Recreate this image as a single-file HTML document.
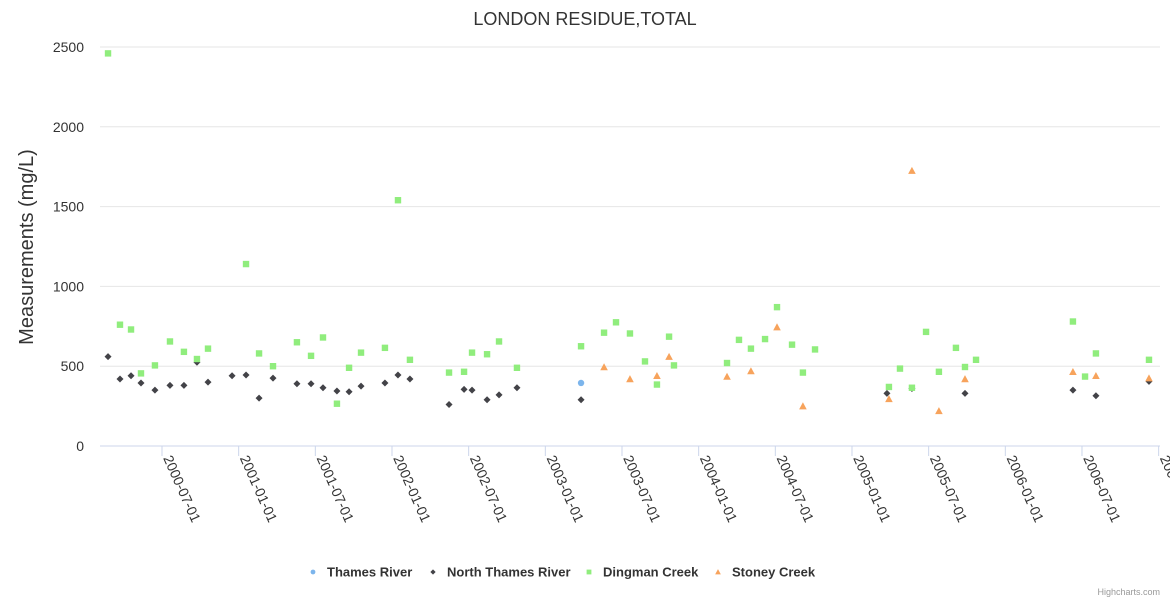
<!DOCTYPE html>
<html><head><meta charset="utf-8"><style>
html,body{margin:0;padding:0;background:#fff;}
svg{display:block;font-family:"Liberation Sans","DejaVu Sans",sans-serif;}
</style></head><body>
<svg id="chart" width="1170" height="600" viewBox="0 0 1170 600" xmlns="http://www.w3.org/2000/svg">
<text x="585" y="25" text-anchor="middle" font-size="18" fill="#333">LONDON RESIDUE,TOTAL</text>
<text transform="translate(33,247) rotate(-90)" text-anchor="middle" font-size="20" fill="#333">Measurements (mg/L)</text>
<g id="grid"></g>
<g id="marks"></g>
<g id="legend"></g>
<text x="1160" y="595" text-anchor="end" font-size="9" fill="#999">Highcharts.com</text>
</svg>
<script>
const yTicks=[0,500,1000,1500,2000,2500];
const xTickYears=[2000.5,2001,2001.5,2002,2002.5,2003,2003.5,2004,2004.5,2005,2005.5,2006,2006.5,2007];
const xTickLabels=["2000-07-01","2001-01-01","2001-07-01","2002-01-01","2002-07-01","2003-01-01","2003-07-01","2004-01-01","2004-07-01","2005-01-01","2005-07-01","2006-01-01","2006-07-01","2007-01-01"];
const seriesNames=["Thames River","North Thames River","Dingman Creek","Stoney Creek"];
const thamesX=[2003.233];
const thamesY=[395];
const northX=[2000.148,2000.226,2000.298,2000.363,2000.454,2000.552,2000.643,2000.728,2000.800,2000.957,2001.048,2001.133,2001.224,2001.380,2001.472,2001.550,2001.641,2001.720,2001.798,2001.954,2002.039,2002.117,2002.372,2002.470,2002.522,2002.620,2002.698,2002.815,2003.233,2005.228,2005.391,2005.737,2006.441,2006.591,2006.937];
const northY=[560,420,440,395,350,380,380,525,400,440,445,300,425,390,390,365,345,340,375,395,445,420,260,355,350,290,320,365,290,330,360,330,350,315,405];
const dingX=[2000.148,2000.226,2000.298,2000.363,2000.454,2000.552,2000.643,2000.728,2000.800,2001.048,2001.133,2001.224,2001.380,2001.472,2001.550,2001.641,2001.720,2001.798,2001.954,2002.039,2002.117,2002.372,2002.470,2002.522,2002.620,2002.698,2002.815,2003.233,2003.383,2003.461,2003.552,2003.650,2003.728,2003.807,2003.839,2004.185,2004.263,2004.341,2004.433,2004.511,2004.609,2004.680,2004.759,2005.241,2005.313,2005.391,2005.483,2005.567,2005.678,2005.737,2005.809,2006.441,2006.520,2006.591,2006.937];
const dingY=[2460,760,730,455,505,655,590,545,610,1140,580,500,650,565,680,265,490,585,615,1540,540,460,465,585,575,655,490,625,710,775,705,530,385,685,505,520,665,610,670,870,635,460,605,370,485,365,715,465,615,495,540,780,435,580,540];
const stoneyX=[2003.383,2003.552,2003.728,2003.807,2004.185,2004.341,2004.511,2004.680,2005.241,2005.391,2005.567,2005.737,2006.441,2006.591,2006.937];
const stoneyY=[495,420,440,560,435,470,745,250,295,1725,220,420,465,440,425];

const NS="http://www.w3.org/2000/svg";
const L=100,R=1160,T=47,B=446;
function xs(yr){return 162+(yr-2000.5)*153.33;}
function ys(v){return B-v*(B-T)/2500;}
function mk(tag,attrs,parent){const e=document.createElementNS(NS,tag);for(const k in attrs)e.setAttribute(k,attrs[k]);parent.appendChild(e);return e;}
const grid=document.getElementById('grid');
yTicks.forEach((t,i)=>{
  const l=mk('line',{x1:L,x2:R,y1:ys(t),y2:ys(t),stroke:t===0?'#ccd6eb':'#e6e6e6','stroke-width':1},grid);
  
  
  const tx=mk('text',{x:84,y:ys(t)+5,'text-anchor':'end','font-size':14,fill:'#333'},grid);
  tx.textContent=t;
  
  
});
xTickYears.forEach((yr,i)=>{
  const x=xs(yr);
  const tk=mk('line',{x1:x,x2:x,y1:B,y2:B+10,stroke:'#ccd6eb'},grid);
  
  
  const tx=mk('text',{transform:`translate(${x+1},${B+12}) rotate(66)`,'font-size':14,fill:'#333'},grid);
  tx.textContent=xTickLabels[i];
  
  
});
const marks=document.getElementById('marks');
function circle(x,y,p,c,s){return mk('circle',{cx:x,cy:y,r:3.2*s,fill:c},p);}
function diamond(x,y,p,c,s){const r=3.5*s;return mk('path',{d:`M${x} ${y-r}L${x+r} ${y}L${x} ${y+r}L${x-r} ${y}Z`,fill:c},p);}
function square(x,y,p,c,s){const r=3.2*s;return mk('rect',{x:x-r,y:y-r,width:2*r,height:2*r,fill:c},p);}
function tri(x,y,p,c,s){const r=3.8*s;return mk('path',{d:`M${x} ${y-r}L${x+r} ${y+r*0.85}L${x-r} ${y+r*0.85}Z`,fill:c},p);}
const cfg=[
 {xs:thamesX,ys:thamesY,f:circle,c:'#7cb5ec',n:'thames-point'},
 {xs:northX,ys:northY,f:diamond,c:'#434348',n:'north-thames-point'},
 {xs:dingX,ys:dingY,f:square,c:'#90ed7d',n:'dingman-point'},
 {xs:stoneyX,ys:stoneyY,f:tri,c:'#f7a35c',n:'stoney-point'}];
cfg.forEach(s=>{
  const g=mk('g',{},marks);
  
  
  s.xs.forEach((yr,i)=>{
    const e=s.f(xs(yr),ys(s.ys[i]),g,s.c,1);
    
    
  });
});
const legend=document.getElementById('legend');
const legX=[313,433,589,718];
cfg.forEach((s,i)=>{
  const g=mk('g',{},legend);
  
  
  s.f(legX[i],572,g,s.c,0.75);
  const t=mk('text',{x:legX[i]+14,y:576.5,'font-size':13,'font-weight':'bold',fill:'#333'},g);
  t.textContent=seriesNames[i];
});
</script>
</body></html>
